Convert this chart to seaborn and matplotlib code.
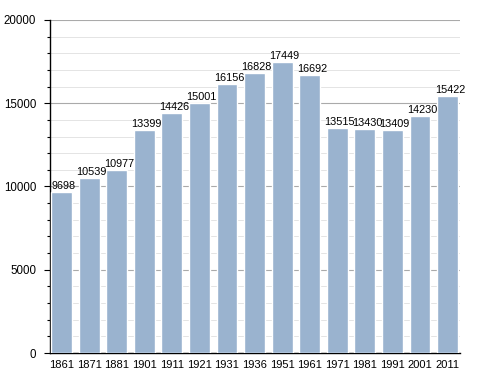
import matplotlib
matplotlib.use("Agg")
import matplotlib.pyplot as plt
import seaborn as sns
import pandas as pd
from matplotlib.ticker import MultipleLocator

years = ["1861", "1871", "1881", "1901", "1911", "1921", "1931", "1936",
         "1951", "1961", "1971", "1981", "1991", "2001", "2011"]
population = [9698, 10539, 10977, 13399, 14426, 15001, 16156, 16828,
              17449, 16692, 13515, 13430, 13409, 14230, 15422]

df = pd.DataFrame({"year": years, "pop": population})

sns.set_style("white")
plt.rcParams['font.family'] = ['Liberation Sans', 'DejaVu Sans']
plt.rcParams['text.color'] = 'black'
plt.rcParams['xtick.color'] = 'black'
plt.rcParams['ytick.color'] = 'black'

fig = plt.figure(figsize=(4.88, 3.73), dpi=100)
ax = fig.add_axes([50/488, 20/373, 410/488, 333/373])

sns.barplot(data=df, x="year", y="pop", color="#9ab3cf", saturation=1,
            width=0.76, ax=ax, zorder=3)

ax.set_ylim(0, 20000)
ax.set_xlim(-0.42, len(years) - 0.55)
ax.yaxis.set_major_locator(MultipleLocator(5000))
ax.yaxis.set_minor_locator(MultipleLocator(1000))
ax.grid(axis="y", which="major", color="#aaaaaa", linewidth=0.8, zorder=0)
ax.grid(axis="y", which="minor", color="#e4e4e4", linewidth=0.7, zorder=0)
ax.set_axisbelow(True)

for s in ["top", "right"]:
    ax.spines[s].set_visible(False)
ax.spines["left"].set_color("black")
ax.spines["bottom"].set_color("black")
ax.spines["left"].set_linewidth(1.0)
ax.spines["bottom"].set_linewidth(1.0)

ax.tick_params(axis="y", which="major", left=True, length=4, width=0.8,
               labelsize=8.3, pad=6, colors="black")
ax.tick_params(axis="y", which="minor", left=True, length=2.5, width=0.8,
               colors="black")
ax.tick_params(axis="x", bottom=False, labelsize=8, pad=1.5, colors="black")
ax.set_xlabel("")
ax.set_ylabel("")

for i, v in enumerate(population):
    ax.text(i + 0.08, v + 60, str(v), ha="center", va="bottom", fontsize=7.8,
            color="black", zorder=4)

fig.savefig("out.png", dpi=100)
